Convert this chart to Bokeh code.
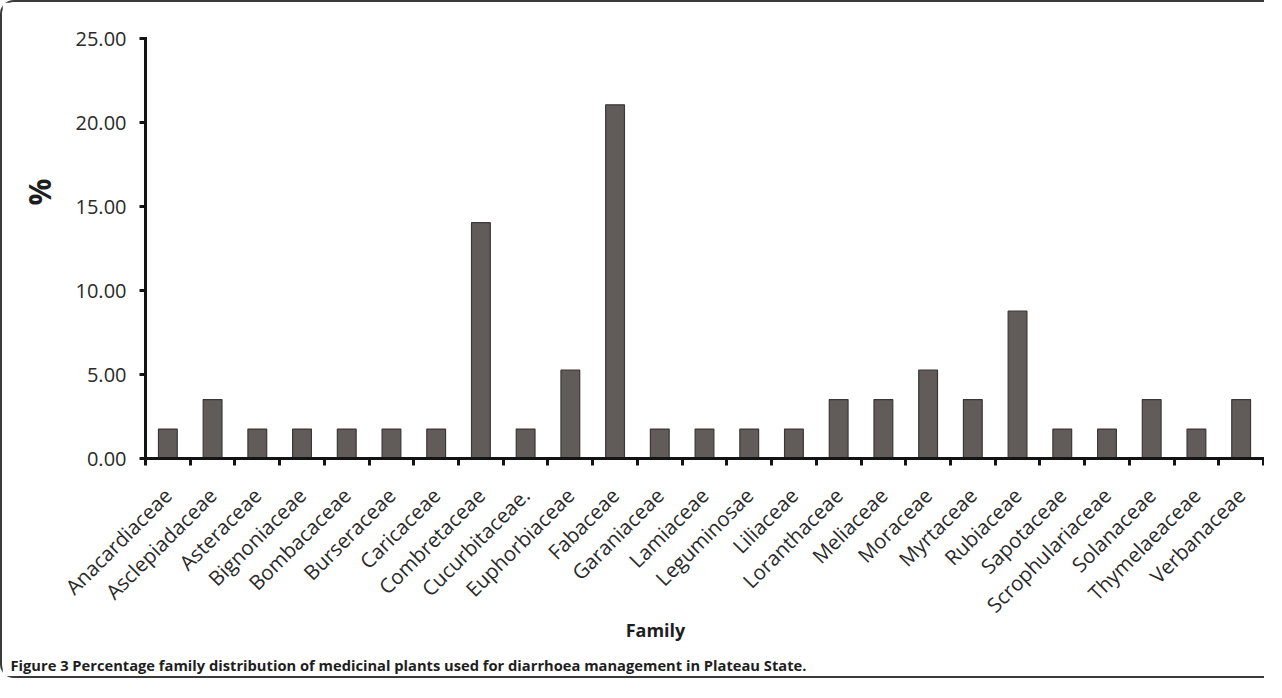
import math
from bokeh.plotting import figure
from bokeh.models import FixedTicker, NumeralTickFormatter, Range1d, Title, Label
from bokeh.embed import file_html
from bokeh.resources import INLINE

# ---- data ----
families = [
    "Anacardiaceae", "Asclepiadaceae", "Asteraceae", "Bignoniaceae", "Bombacaceae",
    "Burseraceae", "Caricaceae", "Combretaceae", "Cucurbitaceae.", "Euphorbiaceae",
    "Fabaceae", "Garaniaceae", "Lamiaceae", "Leguminosae", "Liliaceae",
    "Loranthaceae", "Meliaceae", "Moraceae", "Myrtaceae", "Rubiaceae",
    "Sapotaceae", "Scrophulariaceae", "Solanaceae", "Thymelaeaceae", "Verbanaceae",
]
percent = [
    1.75, 3.51, 1.75, 1.75, 1.75,
    1.75, 1.75, 14.04, 1.75, 5.26,
    21.05, 1.75, 1.75, 1.75, 1.75,
    3.51, 3.51, 5.26, 3.51, 8.77,
    1.75, 1.75, 3.51, 1.75, 3.51,
]
y_ticks = [0, 5, 10, 15, 20, 25]
x_title = "Family"
y_title = "%"
caption = "Figure 3 Percentage family distribution of medicinal plants used for diarrhoea management in Plateau State."

# ---- layout ----
W, H = 1264, 678
ML, MR, MT, MB = 143, 3, 36, 222
FW, FH = W - ML - MR, H - MT - MB
n = len(families)
positions = list(range(1, n + 1))
YMAX = 25

def dx(cx):
    return 0.5 + (cx - ML) * n / FW

def dy(cy):
    return (MT + FH - cy) * YMAX / FH

p = figure(width=W, height=H, output_backend="svg", toolbar_location=None,
           x_range=Range1d(0.5, n + 0.5), y_range=Range1d(0, YMAX),
           min_border_left=ML, min_border_right=MR, min_border_top=MT, min_border_bottom=MB)
p.styles = {
    "border-left": "2px solid #3a3a3a",
    "border-top": "2px solid #3a3a3a",
    "border-bottom": "2px solid #3a3a3a",
    "border-right": "none",
    "border-radius": "14px 0 0 14px",
}
p.outline_line_color = None
p.xgrid.visible = False
p.ygrid.visible = False

p.vbar(x=positions, top=percent, width=0.42, fill_color="#615c5a",
       line_color="#3a3736", line_width=1.2)

axis_col = "#141414"
label_col = "#2a2a2a"

ya = p.yaxis[0]
ya.ticker = FixedTicker(ticks=y_ticks)
ya.formatter = NumeralTickFormatter(format="0.00")
ya.axis_line_width = 3
ya.axis_line_color = axis_col
ya.axis_line_cap = "square"
ya.major_tick_out = 6
ya.major_tick_in = 0
ya.major_tick_line_width = 3
ya.major_tick_line_color = axis_col
ya.minor_tick_out = 0
ya.minor_tick_in = 0
ya.major_label_text_font = "Open Sans"
ya.major_label_text_font_size = "20px"
ya.major_label_text_color = label_col
ya.major_label_standoff = 13

xa = p.xaxis[0]
xa.ticker = FixedTicker(ticks=positions, minor_ticks=[i + 0.5 for i in range(0, n + 1)])
xa.major_label_overrides = {pos: name for pos, name in zip(positions, families)}
xa.major_label_orientation = math.pi / 4
xa.axis_line_width = 3
xa.axis_line_color = axis_col
xa.axis_line_cap = "square"
xa.major_tick_out = 0
xa.major_tick_in = 0
xa.major_tick_line_color = None
xa.minor_tick_out = 7
xa.minor_tick_in = 0
xa.minor_tick_line_width = 3
xa.minor_tick_line_color = axis_col
xa.major_label_text_font = "Open Sans"
xa.major_label_text_font_size = "20.5px"
xa.major_label_text_color = label_col
xa.major_label_standoff = 26

# y title "%" in the left panel, beyond the axis
p.add_layout(Title(text=y_title, align="left", offset=253, standoff=25,
                   text_font="Open Sans", text_font_style="bold",
                   text_font_size="30px", text_color="#1e1e1e"), "left")
# x title "Family" and the caption, placed in the bottom panel (not clipped to the frame)
p.add_layout(Label(x=dx(653), y=dy(627), text=x_title,
                   text_align="center", text_baseline="middle",
                   text_font="Open Sans", text_font_style="bold",
                   text_font_size="18px", text_color="#1e1e1e"), "below")
p.add_layout(Label(x=dx(8), y=dy(662), text=caption,
                   text_align="left", text_baseline="middle",
                   text_font="Open Sans", text_font_style="bold",
                   text_font_size="14.7px", text_color="#1e1e1e"), "below")

open("out.html", "w").write(file_html(p, INLINE))
